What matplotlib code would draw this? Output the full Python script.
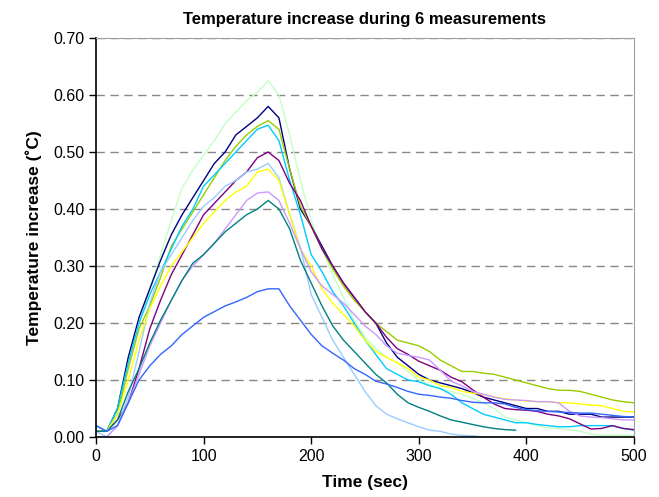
import matplotlib
matplotlib.use('Agg')
import matplotlib.pyplot as plt

# time axis (sec), one value every 10 s
time = list(range(0, 510, 10))

# temperature increase (deg C), one list per run
pale_green = [0.01, 0.01, 0.05, 0.14, 0.20, 0.26, 0.32, 0.38, 0.437, 0.468,
              0.495, 0.52, 0.55, 0.57, 0.59, 0.605, 0.625, 0.60, 0.53, 0.45,
              0.38, 0.33, 0.285, 0.245, 0.205, 0.175, 0.155, 0.14, 0.13, 0.115,
              0.10, 0.092, 0.085, 0.08, 0.075, 0.068, 0.06, 0.05, 0.035, 0.03,
              0.025, 0.02, 0.016, 0.015, 0.013, 0.01, 0.005, 0.003, 0.003, 0.003,
              0.003]
navy = [0.01, 0.01, 0.05, 0.14, 0.21, 0.26, 0.31, 0.355, 0.39, 0.42,
        0.45, 0.48, 0.50, 0.53, 0.545, 0.56, 0.58, 0.56, 0.47, 0.40,
        0.37, 0.335, 0.30, 0.27, 0.245, 0.22, 0.20, 0.165, 0.14, 0.125,
        0.11, 0.10, 0.095, 0.09, 0.085, 0.078, 0.07, 0.065, 0.06, 0.055,
        0.05, 0.05, 0.045, 0.045, 0.04, 0.04, 0.04, 0.035, 0.035, 0.035,
        0.035]
yellow_green = [0.01, 0.01, 0.04, 0.12, 0.19, 0.23, 0.28, 0.335, 0.365, 0.395,
                0.425, 0.455, 0.485, 0.51, 0.53, 0.545, 0.555, 0.54, 0.47, 0.405,
                0.37, 0.33, 0.295, 0.265, 0.24, 0.22, 0.20, 0.185, 0.17, 0.165,
                0.16, 0.15, 0.135, 0.125, 0.115, 0.115, 0.112, 0.11, 0.105, 0.10,
                0.095, 0.09, 0.085, 0.082, 0.082, 0.08, 0.075, 0.07, 0.065, 0.062,
                0.06]
cyan = [0.02, 0.01, 0.05, 0.13, 0.20, 0.25, 0.29, 0.33, 0.37, 0.40,
        0.44, 0.46, 0.48, 0.50, 0.52, 0.54, 0.547, 0.52, 0.45, 0.39,
        0.32, 0.29, 0.255, 0.23, 0.20, 0.17, 0.145, 0.12, 0.11, 0.10,
        0.097, 0.09, 0.085, 0.075, 0.06, 0.05, 0.04, 0.035, 0.03, 0.025,
        0.025, 0.022, 0.02, 0.018, 0.018, 0.02, 0.02, 0.02, 0.02, 0.015,
        0.012]
purple = [0.01, 0.01, 0.03, 0.06, 0.12, 0.19, 0.24, 0.285, 0.32, 0.355,
          0.39, 0.41, 0.43, 0.45, 0.465, 0.49, 0.50, 0.485, 0.445, 0.415,
          0.37, 0.33, 0.30, 0.27, 0.245, 0.22, 0.20, 0.175, 0.155, 0.145,
          0.133, 0.125, 0.117, 0.105, 0.097, 0.083, 0.07, 0.058, 0.05, 0.048,
          0.047, 0.045, 0.04, 0.037, 0.032, 0.023, 0.014, 0.015, 0.02, 0.015,
          0.013]
light_blue = [0.01, 0.0, 0.02, 0.07, 0.15, 0.235, 0.29, 0.32, 0.35, 0.38,
              0.405, 0.42, 0.44, 0.45, 0.465, 0.47, 0.48, 0.455, 0.39, 0.333,
              0.25, 0.21, 0.17, 0.14, 0.11, 0.08, 0.055, 0.04, 0.032, 0.025,
              0.018, 0.012, 0.01, 0.005, 0.003, 0.002, 0.0]
yellow = [0.01, 0.01, 0.04, 0.10, 0.17, 0.225, 0.265, 0.30, 0.325, 0.35,
          0.375, 0.395, 0.415, 0.43, 0.44, 0.465, 0.47, 0.45, 0.39, 0.33,
          0.30, 0.26, 0.235, 0.215, 0.195, 0.17, 0.15, 0.14, 0.13, 0.12,
          0.105, 0.10, 0.09, 0.087, 0.08, 0.077, 0.075, 0.07, 0.067, 0.065,
          0.063, 0.062, 0.062, 0.06, 0.06, 0.058, 0.056, 0.055, 0.05, 0.045,
          0.044]
lavender = [0.0, 0.0, 0.02, 0.06, 0.11, 0.16, 0.20, 0.24, 0.275, 0.30,
            0.32, 0.34, 0.365, 0.39, 0.415, 0.428, 0.43, 0.415, 0.375, 0.33,
            0.29, 0.265, 0.25, 0.235, 0.215, 0.195, 0.18, 0.16, 0.147, 0.143,
            0.14, 0.135, 0.117, 0.098, 0.09, 0.08, 0.075, 0.07, 0.066, 0.065,
            0.064, 0.062, 0.062, 0.06, 0.045, 0.037, 0.035, 0.034, 0.032, 0.03,
            0.03]
teal = [0.01, 0.01, 0.03, 0.08, 0.12, 0.165, 0.205, 0.24, 0.275, 0.305,
        0.32, 0.34, 0.36, 0.375, 0.39, 0.40, 0.415, 0.40, 0.365, 0.31,
        0.27, 0.23, 0.195, 0.17, 0.15, 0.13, 0.11, 0.095, 0.075, 0.06,
        0.052, 0.045, 0.037, 0.03, 0.026, 0.022, 0.018, 0.015, 0.013, 0.012]
blue = [0.02, 0.01, 0.02, 0.06, 0.10, 0.125, 0.145, 0.16, 0.18, 0.195,
        0.21, 0.22, 0.23, 0.237, 0.245, 0.255, 0.26, 0.26, 0.23, 0.205,
        0.18, 0.16, 0.147, 0.135, 0.12, 0.11, 0.098, 0.093, 0.087, 0.08,
        0.075, 0.073, 0.07, 0.068, 0.064, 0.061, 0.06, 0.06, 0.058, 0.052,
        0.048, 0.046, 0.045, 0.044, 0.043, 0.042, 0.042, 0.04, 0.038, 0.036,
        0.035]

series = [
    (pale_green, '#c4ffc4'),
    (navy, '#000080'),
    (yellow_green, '#99cc00'),
    (cyan, '#00ccff'),
    (purple, '#800080'),
    (light_blue, '#99ccff'),
    (yellow, '#ffff00'),
    (lavender, '#cc99ff'),
    (teal, '#008080'),
    (blue, '#3366ff'),
]

plt.rcParams['font.family'] = ['Liberation Sans', 'DejaVu Sans']

fig = plt.figure(figsize=(6.59, 4.97), dpi=100)
ax = fig.add_axes([0.1457, 0.1207, 0.8163, 0.8028])

for vals, col in series:
    ax.plot(time[:len(vals)], vals, color=col, linewidth=1.0)

ax.set_xlim(0, 500)
ax.set_ylim(0, 0.70)
ax.set_xticks([0, 100, 200, 300, 400, 500])
ax.set_yticks([0.0, 0.1, 0.2, 0.3, 0.4, 0.5, 0.6, 0.7])
ax.set_yticklabels([f'{v:.2f}' for v in ax.get_yticks()])
ax.tick_params(direction='out', length=5, width=1, labelsize=11.5, colors='black')
ax.yaxis.grid(True, linestyle=(0, (6, 4)), color='#888888', linewidth=1)
ax.set_axisbelow(True)

for side in ['top', 'right']:
    ax.spines[side].set_color('#a0a0a0')
for side in ['left', 'bottom']:
    ax.spines[side].set_color('black')
    ax.spines[side].set_linewidth(1.2)

ax.set_title('Temperature increase during 6 measurements', fontsize=12,
             fontweight='bold', pad=10)
ax.set_xlabel('Time (sec)', fontsize=12.5, fontweight='bold', labelpad=8)
ax.set_ylabel('Temperature increase (˚C)', fontsize=12.5, fontweight='bold', labelpad=8)

plt.savefig('out.png', dpi=100)
